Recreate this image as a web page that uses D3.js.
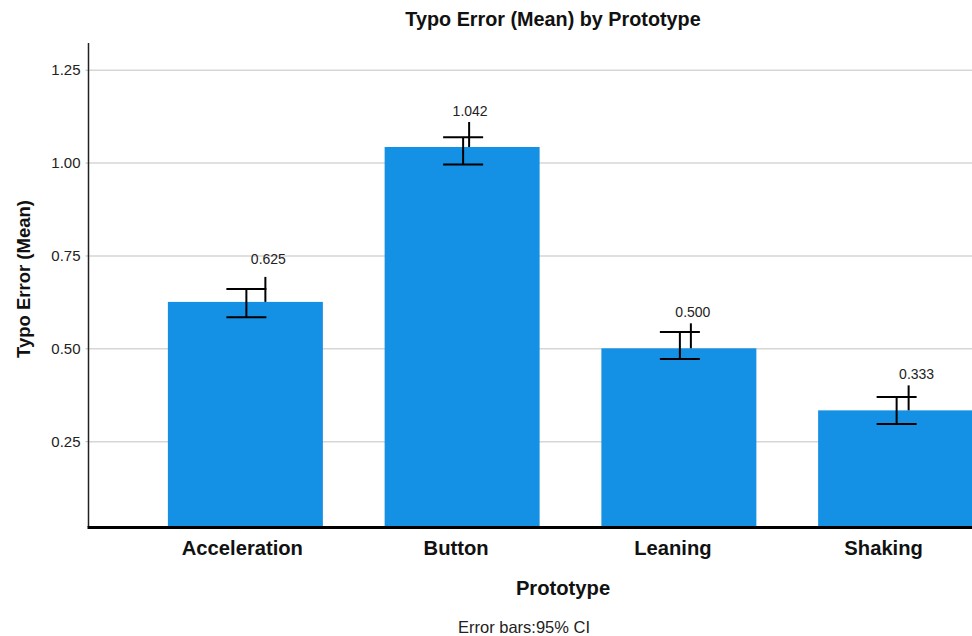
<!DOCTYPE html>
<html>
<head>
<meta charset="utf-8">
<script src="https://cdn.jsdelivr.net/npm/d3@7"></script>
<style>
  html, body { margin: 0; padding: 0; background: #fff; }
  svg { display: block; font-family: "Liberation Sans", Arial, sans-serif; }
</style>
</head>
<body>
<svg id="chart" width="972" height="636"></svg>
<script>
// ---- data ----
const categories = ["Acceleration", "Button", "Leaning", "Shaking"];
const means = [0.625, 1.042, 0.500, 0.333];
const ciLower = [0.584, 0.995, 0.471, 0.296];
const ciUpper = [0.660, 1.068, 0.544, 0.369];
const meanLabels = ["0.625", "1.042", "0.500", "0.333"];
const yTicks = [0.25, 0.50, 0.75, 1.00, 1.25];
const yTickLabels = ["0.25", "0.50", "0.75", "1.00", "1.25"];

// ---- layout (not data) ----
const leaderDx = [20, 7, 12, 13];   // leader line offset from bar center
const labelDx = [23, 8, 14, 21];    // label center offset from bar center
const labelGap = [13, 6, 6, 6];     // gap between leader top and label baseline
const catLabelDx = [-3, -6, -6, -12];
const leaderLen = 25;

const svg = d3.select("#chart");
const axisX = 88.5, plotTop = 43, plotBottom = 527, plotRight = 972;

const x = d3.scaleBand().domain(categories).range([137, 1004]).paddingInner(0.285).paddingOuter(0.1425);
const y = d3.scaleLinear().domain([0.019, 1.322]).range([plotBottom, plotTop]);

// gridlines
const grid = d3.axisLeft(y).tickValues(yTicks).tickSize(-(plotRight - axisX)).tickFormat("");
svg.append("g").attr("transform", `translate(${axisX},0)`).call(grid)
  .call(g => g.select(".domain").remove())
  .call(g => g.selectAll("line").attr("stroke", "#d6d6d6").attr("stroke-width", 1.5));

// y axis ticks + labels
const yAxis = d3.axisLeft(y).tickValues(yTicks).tickSize(3).tickPadding(5)
  .tickFormat((d, i) => yTickLabels[i]);
svg.append("g").attr("transform", `translate(${axisX},0)`).call(yAxis)
  .call(g => g.select(".domain").remove())
  .call(g => g.selectAll("line").attr("stroke", "#bbb"))
  .call(g => g.selectAll("text").attr("font-size", 15).attr("fill", "#222")
    .attr("font-family", "Liberation Sans, Arial, sans-serif"));

// bars
svg.append("g").selectAll("rect").data(categories).join("rect")
  .attr("x", d => x(d))
  .attr("width", x.bandwidth())
  .attr("y", (d, i) => y(means[i]))
  .attr("height", (d, i) => plotBottom - y(means[i]))
  .attr("fill", "#1490e4");

// y axis line
svg.append("line").attr("x1", axisX).attr("x2", axisX).attr("y1", plotTop).attr("y2", plotBottom)
  .attr("stroke", "#222").attr("stroke-width", 1.5);

// x axis
const xAxis = d3.axisBottom(x).tickSize(0).tickPadding(14);
const gx = svg.append("g").attr("transform", `translate(0,${plotBottom})`).call(xAxis);
gx.select(".domain").remove();
gx.selectAll("text").attr("font-size", 20.2).attr("font-weight", "bold").attr("fill", "#111")
  .attr("font-family", "Liberation Sans, Arial, sans-serif")
  .attr("dx", (d, i) => catLabelDx[i]);
svg.append("line").attr("x1", axisX - 1).attr("x2", plotRight).attr("y1", plotBottom + 0.5).attr("y2", plotBottom + 0.5)
  .attr("stroke", "#000").attr("stroke-width", 3);

// error bars
const eb = svg.append("g").attr("stroke", "#000").attr("stroke-width", 2).attr("fill", "none");
categories.forEach((c, i) => {
  const cx = x(c) + x.bandwidth() / 2 + 1;
  const yU = y(ciUpper[i]), yL = y(ciLower[i]);
  eb.append("line").attr("x1", cx).attr("x2", cx).attr("y1", yU).attr("y2", yL);
  eb.append("line").attr("x1", cx - 20).attr("x2", cx + 20).attr("y1", yU).attr("y2", yU);
  eb.append("line").attr("x1", cx - 20).attr("x2", cx + 20).attr("y1", yL).attr("y2", yL);
  // label leader
  const lx = x(c) + x.bandwidth() / 2 + leaderDx[i];
  const yTop = y(means[i]);
  eb.append("line").attr("x1", lx).attr("x2", lx).attr("y1", yTop).attr("y2", yTop - leaderLen);
  svg.append("text")
    .attr("x", x(c) + x.bandwidth() / 2 + labelDx[i])
    .attr("y", yTop - leaderLen - labelGap[i])
    .attr("text-anchor", "middle").attr("font-size", 14).attr("fill", "#222")
    .text(meanLabels[i]);
});

// titles
svg.append("text").attr("x", 553).attr("y", 26).attr("text-anchor", "middle")
  .attr("font-size", 19.8).attr("font-weight", "bold").attr("fill", "#111")
  .text("Typo Error (Mean) by Prototype");
svg.append("text").attr("x", 563).attr("y", 595).attr("text-anchor", "middle")
  .attr("font-size", 20.2).attr("font-weight", "bold").attr("fill", "#111")
  .text("Prototype");
svg.append("text").attr("transform", "translate(30,279) rotate(-90)").attr("text-anchor", "middle")
  .attr("font-size", 18.5).attr("font-weight", "bold").attr("fill", "#111")
  .text("Typo Error (Mean)");
svg.append("text").attr("x", 524).attr("y", 633).attr("text-anchor", "middle")
  .attr("font-size", 16.5).attr("fill", "#222")
  .text("Error bars:95% CI");
</script>
</body>
</html>
